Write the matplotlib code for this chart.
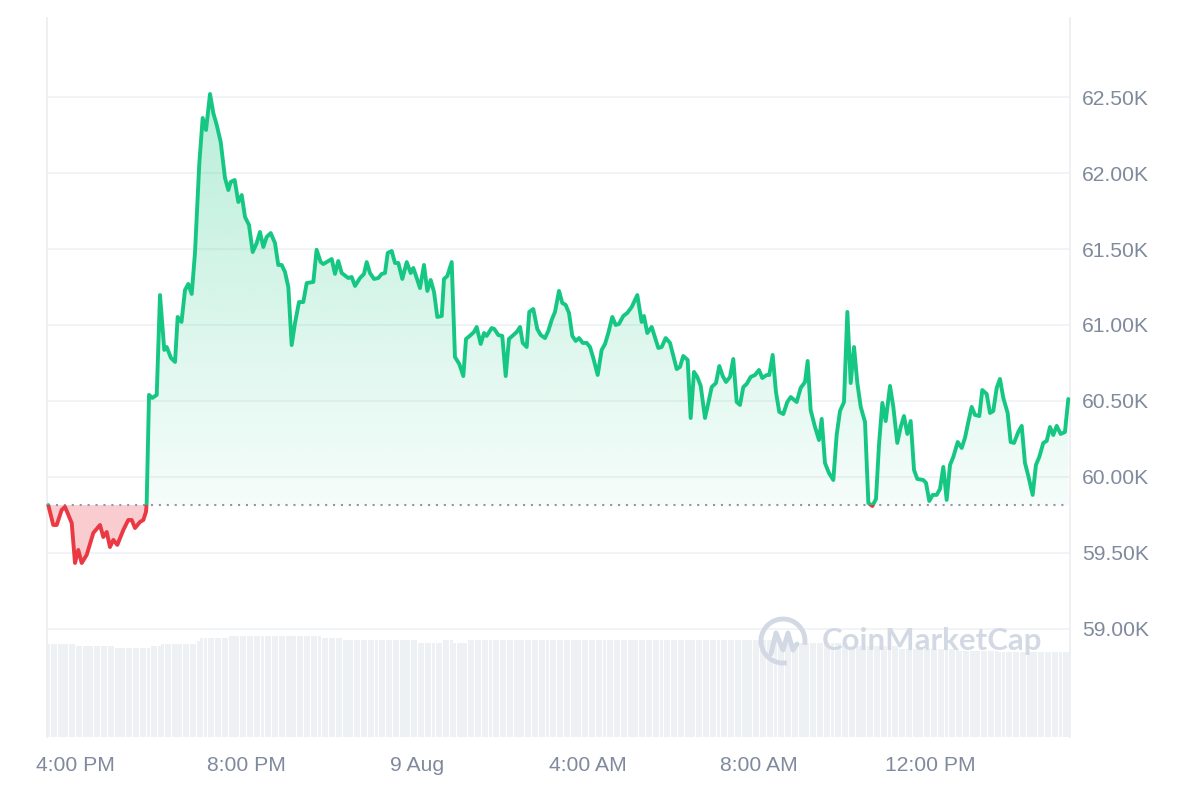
import numpy as np
import matplotlib
matplotlib.use("Agg")
import matplotlib.pyplot as plt
from matplotlib.path import Path
from matplotlib.patches import Rectangle, Arc
from matplotlib.lines import Line2D

plt.rcParams['font.family'] = ['Liberation Sans', 'DejaVu Sans']

# ---- data: minutes after 4:00 PM (8 Aug) and price in USD ----
minutes = [
    -37.5, -30.5, -25.7, -18.7, -14.0, -4.6, 0.0, 4.6, 9.4, 16.4,
    25.7, 35.1, 39.7, 44.5, 49.1, 53.8, 59.4, 67.8, 74.8, 79.6,
    84.2, 91.2, 95.9, 99.6, 100.6, 103.9, 108.5, 114.7, 119.3, 125.3,
    128.7, 134.7, 140.4, 144.1, 149.5, 154.4, 159.0, 163.8, 168.4, 174.5,
    179.2, 183.9, 189.5, 194.1, 198.9, 204.5, 210.5, 215.2, 218.5, 224.1,
    229.2, 234.0, 238.6, 244.2, 249.4, 255.0, 259.6, 264.3, 269.0, 274.7,
    280.7, 285.3, 290.1, 294.7, 299.4, 304.1, 308.8, 314.4, 320.4, 325.2,
    334.5, 339.1, 344.8, 348.5, 360.3, 364.9, 369.5, 374.3, 383.6, 388.3,
    393.0, 400.0, 405.6, 409.4, 414.0, 419.6, 425.7, 430.4, 435.1, 438.9,
    444.5, 449.1, 453.8, 459.4, 465.6, 471.2, 474.8, 479.6, 484.2, 489.8,
    494.5, 499.2, 503.9, 508.5, 514.7, 517.9, 522.5, 528.7, 533.3, 539.4,
    545.0, 548.8, 555.4, 560.0, 563.8, 569.4, 574.1, 577.8, 584.8, 588.5,
    594.1, 599.7, 604.5, 609.1, 615.2, 620.0, 624.6, 628.4, 634.0, 637.6,
    643.2, 648.8, 653.6, 659.6, 664.3, 669.0, 673.7, 679.3, 683.9, 688.7,
    693.3, 698.0, 702.7, 707.4, 712.6, 718.2, 722.8, 727.4, 733.6, 739.2,
    743.9, 748.5, 754.1, 758.9, 763.5, 769.5, 775.1, 781.3, 789.2, 795.3,
    798.6, 803.2, 809.4, 818.7, 823.4, 829.0, 835.1, 844.5, 849.1, 853.7,
    859.9, 864.1, 868.8, 873.4, 878.2, 884.2, 888.9, 893.6, 899.6, 904.3,
    909.1, 913.7, 919.3, 923.9, 928.7, 933.3, 938.0, 942.7, 948.3, 954.4,
    960.0, 964.6, 970.8, 974.4, 979.2, 983.8, 988.5, 994.1, 999.7, 1004.5,
    1012.9, 1018.5, 1024.6, 1028.3, 1032.5, 1038.6, 1044.2, 1048.0, 1052.6, 1058.2,
    1064.3, 1069.0, 1073.7, 1079.3, 1084.0, 1088.7, 1093.4, 1098.0, 1102.8, 1108.8,
    1113.5, 1119.1, 1124.2, 1128.4, 1133.1, 1137.8, 1143.9, 1148.5, 1154.1, 1158.9,
    1163.5, 1168.2, 1172.9, 1177.6, 1182.2, 1190.6, 1194.4, 1199.0, 1203.8, 1209.4,
    1214.0, 1218.7, 1223.4, 1228.1, 1232.7, 1238.9, 1244.5, 1249.1, 1253.8, 1258.5,
    1263.2, 1269.2, 1273.4, 1279.6, 1284.2, 1288.8, 1293.6, 1298.2, 1302.9, 1309.0,
    1313.2, 1317.9, 1323.9, 1328.7, 1333.3, 1338.0, 1344.1, 1348.7, 1353.4, 1359.0,
    1363.8, 1368.4, 1373.0, 1377.8, 1383.4, 1389.4, 1394.1,
]
prices = [
    59815, 59684, 59684, 59783, 59803, 59697, 59434, 59520, 59434, 59487,
    59632, 59684, 59605, 59638, 59539, 59586, 59553, 59651, 59717, 59717,
    59664, 59704, 59717, 59770, 59829, 60540, 60520, 60540, 61197, 60836,
    60855, 60783, 60757, 61053, 61020, 61230, 61270, 61204, 61474, 62066,
    62362, 62283, 62520, 62395, 62316, 62204, 61967, 61888, 61941, 61954,
    61809, 61855, 61711, 61658, 61480, 61539, 61612, 61513, 61579, 61605,
    61539, 61395, 61395, 61349, 61250, 60868, 61013, 61151, 61151, 61276,
    61283, 61495, 61414, 61401, 61434, 61336, 61421, 61342, 61309, 61316,
    61257, 61309, 61336, 61414, 61342, 61303, 61309, 61336, 61342, 61474,
    61487, 61408, 61408, 61303, 61414, 61342, 61375, 61309, 61243, 61395,
    61224, 61296, 61217, 61053, 61059, 61303, 61322, 61414, 60789, 60743,
    60664, 60908, 60934, 60954, 60987, 60875, 60947, 60928, 60980, 60974,
    60934, 60928, 60664, 60908, 60934, 60954, 60987, 60882, 60855, 61086,
    61105, 60974, 60934, 60914, 60961, 61033, 61086, 61224, 61145, 61132,
    61079, 60928, 60895, 60914, 60882, 60882, 60855, 60783, 60671, 60836,
    60875, 60947, 61053, 61000, 61007, 61059, 61079, 61118, 61197, 61020,
    61059, 60947, 60987, 60849, 60855, 60914, 60882, 60710, 60724, 60796,
    60770, 60388, 60691, 60658, 60599, 60388, 60487, 60592, 60618, 60730,
    60664, 60625, 60658, 60776, 60493, 60474, 60592, 60612, 60658, 60671,
    60704, 60651, 60671, 60671, 60803, 60559, 60428, 60414, 60493, 60526,
    60493, 60586, 60625, 60763, 60441, 60329, 60243, 60382, 60092, 60026,
    59980, 60276, 60434, 60493, 61086, 60618, 60855, 60618, 60461, 60362,
    59829, 59809, 59855, 60211, 60487, 60368, 60599, 60461, 60224, 60329,
    60401, 60283, 60368, 60046, 59987, 59980, 59961, 59842, 59882, 59882,
    59921, 60066, 59849, 60079, 60132, 60230, 60191, 60257, 60362, 60461,
    60408, 60401, 60572, 60546, 60421, 60434, 60586, 60645, 60520, 60421,
    60230, 60224, 60296, 60336, 60092, 60007, 59882, 60079, 60132, 60224,
    60237, 60329, 60276, 60336, 60283, 60296, 60513,
]
open_price = 59815

# 24h volume (billions USD), one bar per 5 minutes, read as runs of equal height
vol_levels = [36.2, 35.4, 34.7, 35.4, 36.2, 37.4, 38.4, 39.3, 38.6, 37.8,
              36.8, 37.8, 36.8, 37.8, 36.6, 35.4, 34.3, 33.5, 33.1]
vol_runs = [8, 11, 10, 3, 10, 1, 8, 26, 6, 21,
            7, 3, 4, 87, 20, 14, 17, 11, 20]
vol_start = -36.8

tick_minutes = [0, 240, 480, 720, 960, 1200]
tick_labels = ["4:00 PM", "8:00 PM", "9 Aug", "4:00 AM", "8:00 AM", "12:00 PM"]
price_ticks = [59000, 59500, 60000, 60500, 61000, 61500, 62000, 62500]

GREEN = "#16c784"
RED = "#ea3943"
GRID = "#eff2f5"
LABEL = "#808a9d"

t = np.array(minutes)
p = np.array(prices, dtype=float)
vol = np.repeat(vol_levels, vol_runs)
vol_t = vol_start + 5 * np.arange(len(vol))

xlim = (-39.3, 1396.5)
ylim = (58289, 63020)
pos = [47 / 1200, 63 / 800, 1023 / 1200, 719 / 800]

fig = plt.figure(figsize=(12, 8), dpi=100)

# volume underneath
axv = fig.add_axes(pos)
axv.bar(vol_t, vol, width=4.3, color="#eef1f4", linewidth=0)
axv.set_xlim(*xlim)
axv.set_ylim(0, 280)
axv.axis("off")

ax = fig.add_axes(pos)
ax.patch.set_alpha(0)
ax.set_xlim(*xlim)
ax.set_ylim(*ylim)

# gradient fill above open price
up = ax.fill_between(t, p, open_price, where=p >= open_price, interpolate=True,
                     facecolor="none", linewidth=0)
clip = Path.make_compound_path(*up.get_paths())
grad = np.zeros((256, 1, 4))
grad[:, 0, :3] = matplotlib.colors.to_rgb(GREEN)
grad[:, 0, 3] = np.linspace(0.04, 0.30, 256)
img = ax.imshow(grad, extent=[xlim[0], xlim[1], open_price, p.max()],
                origin="lower", aspect="auto", interpolation="bilinear", zorder=1)
img.set_clip_path(clip, transform=ax.transData)
ax.set_xlim(*xlim)
ax.set_ylim(*ylim)

# red fill below open price
ax.fill_between(t, p, open_price, where=p <= open_price, interpolate=True,
                color=RED, alpha=0.25, linewidth=0, zorder=1)

# price line, coloured by side of the open price
for col, y0, h in [(GREEN, open_price, 10000), (RED, open_price - 10000, 10000)]:
    ln, = ax.plot(t, p, color=col, lw=2.8, solid_joinstyle="round",
                  solid_capstyle="round", zorder=3)
    rect = Rectangle((xlim[0] - 100, y0), 2000, h, transform=ax.transData)
    ln.set_clip_path(rect)

ax.hlines(open_price, t[0], t[-1], colors="#8f96a5", linestyles=(0, (1, 2.8)),
          lw=1.5, zorder=2)

# axes styling
ax.set_yticks(price_ticks)
ax.set_yticklabels([f"{v / 1000:.2f}K" for v in price_ticks])
ax.yaxis.tick_right()
ax.set_xticks(tick_minutes)
ax.set_xticklabels(tick_labels)
ax.tick_params(axis="both", length=0, labelsize=15.2, labelcolor=LABEL)
ax.tick_params(axis="y", pad=8.5)
ax.tick_params(axis="x", pad=14)
ax.grid(axis="y", color=GRID, lw=1.2, zorder=0)
ax.set_axisbelow(True)
for s in ["top", "bottom"]:
    ax.spines[s].set_visible(False)
for s in ["left", "right"]:
    ax.spines[s].set_color("#eceef2")
    ax.spines[s].set_linewidth(1.3)

# watermark
wm = "#d3d9e4"
fig.text(822 / 1200, 1 - 641 / 800, "CoinMarketCap", fontsize=22.5, fontweight="bold",
         family=["Lato", "DejaVu Sans"], color=wm, va="center", ha="left", zorder=5)
fig.add_artist(Arc((783, 800 - 641), 44, 44, theta1=-10, theta2=280, lw=3.5,
                   color=wm, transform=None))
fig.add_artist(Line2D([771, 776, 783, 788, 793, 797], [146, 167, 150, 167, 150, 156],
                      lw=3.5, color=wm, transform=None, solid_joinstyle="round",
                      solid_capstyle="round"))

fig.savefig("out.png", dpi=100)
